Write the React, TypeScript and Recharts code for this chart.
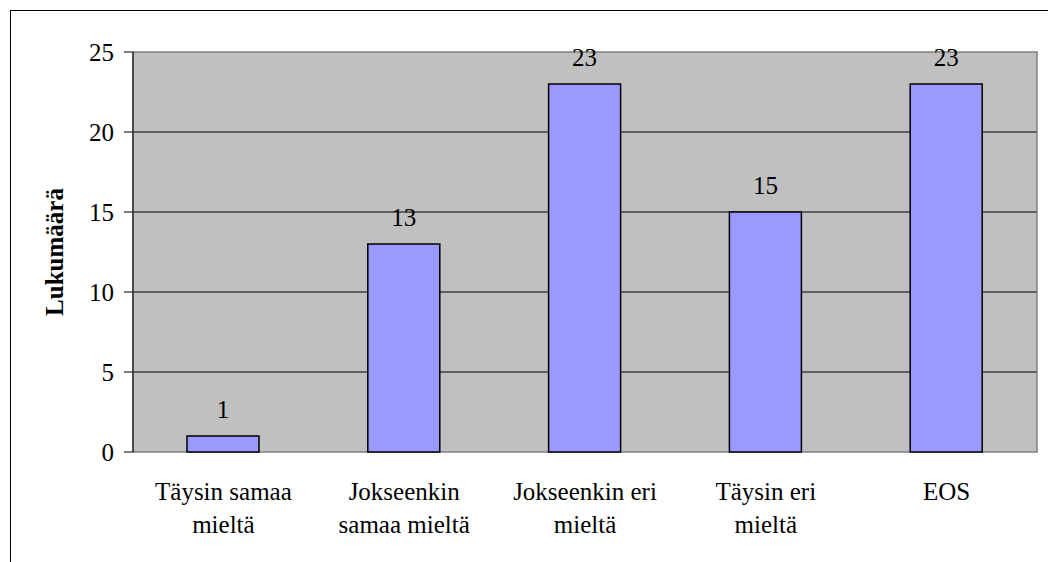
import { BarChart, Bar, XAxis, YAxis, CartesianGrid, ReferenceArea, LabelList } from 'recharts';

const categories = ['Täysin samaa mieltä', 'Jokseenkin samaa mieltä', 'Jokseenkin eri mieltä', 'Täysin eri mieltä', 'EOS'];
const tickLines = [
  ['Täysin samaa', 'mieltä'],
  ['Jokseenkin', 'samaa mieltä'],
  ['Jokseenkin eri', 'mieltä'],
  ['Täysin eri', 'mieltä'],
  ['EOS'],
];
const counts = [1, 13, 23, 15, 23];
const yTicks = [0, 5, 10, 15, 20, 25];
const gridValues = [5, 10, 15, 20];
const edgeTicks = [0, 1, 2, 3, 4, 5];

const data = categories.map((name, i) => ({ name, value: counts[i] }));

const FONT = 'Liberation Serif, DejaVu Serif, serif';

function CategoryTick(props: any) {
  const { x, y, payload } = props;
  const lines = tickLines[payload.index] || [payload.value];
  return (
    <g>
      {lines.map((line, i) => (
        <text
          key={i}
          x={x}
          y={y + 38 + i * 33}
          textAnchor="middle"
          style={{ fontFamily: FONT, fontSize: 25 }}
          fill="#000"
        >
          {line}
        </text>
      ))}
    </g>
  );
}

function AxisTitle(props: any) {
  const { viewBox } = props;
  const cx = 54;
  const cy = viewBox.y + viewBox.height / 2;
  return (
    <text
      x={cx}
      y={cy}
      transform={`rotate(-90, ${cx}, ${cy})`}
      textAnchor="middle"
      dominantBaseline="central"
      style={{ fontFamily: FONT, fontSize: 25, fontWeight: 'bold' }}
      fill="#000"
    >
      Lukumäärä
    </text>
  );
}

export default function App() {
  return (
    <div style={{ position: 'absolute', left: 0, top: 0, width: 1048, height: 562, overflow: 'hidden', background: '#fff', fontFamily: FONT }}>
      <div
        style={{
          position: 'absolute',
          left: 10,
          top: 10,
          width: 1100,
          height: 600,
          borderLeft: '1px solid #000',
          borderTop: '1px solid #000',
        }}
      />
      <div style={{ position: 'absolute', left: 0, top: 0 }}>
        <BarChart
          width={1048}
          height={562}
          data={data}
          margin={{ top: 52, right: 11, left: 0, bottom: 0 }}
          barSize={72}
          style={{ fontFamily: FONT }}
        >
          <CartesianGrid
            horizontal
            vertical={false}
            horizontalValues={gridValues}
            fill="#C0C0C0"
            fillOpacity={1}
            stroke="#000"
          />
          <XAxis
            xAxisId="edges"
            type="number"
            domain={[0, 5]}
            ticks={edgeTicks}
            height={0}
            tickSize={8}
            tick={false}
            axisLine={{ stroke: '#000' }}
            tickLine={{ stroke: '#000' }}
          />
          <XAxis
            dataKey="name"
            height={110}
            axisLine={false}
            tickLine={false}
            tickSize={8}
            tickMargin={2}
            interval={0}
            tick={<CategoryTick />}
          />
          <YAxis
            width={133}
            domain={[0, 25]}
            ticks={yTicks}
            interval={0}
            tickSize={9}
            tickMargin={10}
            axisLine={{ stroke: '#000' }}
            tickLine={{ stroke: '#000' }}
            tick={{ style: { fontFamily: FONT, fontSize: 25 }, fill: '#000' }}
            label={<AxisTitle />}
          />
          <ReferenceArea y1={0} y2={25} fill="none" stroke="#808080" strokeWidth={1.5} ifOverflow="visible" />
          <Bar dataKey="value" fill="#9999FF" stroke="#000" strokeWidth={1.5} isAnimationActive={false}>
            <LabelList
              dataKey="value"
              position="top"
              offset={18}
              style={{ fontFamily: FONT, fontSize: 25 }}
              fill="#000"
            />
          </Bar>
        </BarChart>
      </div>
    </div>
  );
}
